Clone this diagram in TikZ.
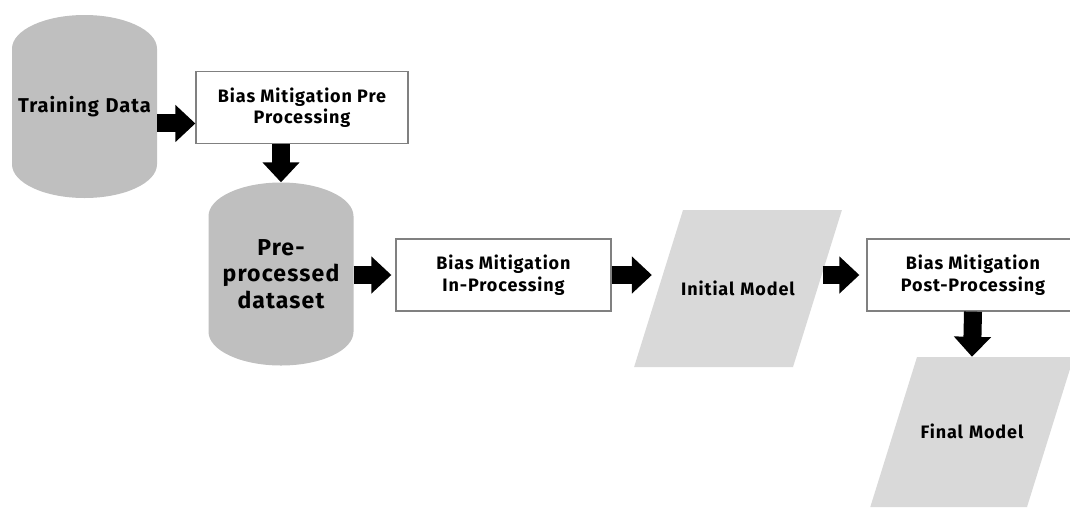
\documentclass[tikz,border=0pt]{standalone}
\usepackage{fontspec}
\setmainfont{Fira Sans}
\newfontfamily\labelfont{Fira Sans}[LetterSpace=5]
\usetikzlibrary{shapes.geometric,arrows.meta,positioning}
\usepackage{xcolor}
\definecolor{dbgray}{HTML}{BFBFBF}
\definecolor{iogray}{HTML}{D9D9D9}
\tikzset{
    database/.style={cylinder, shape border rotate=90, aspect=0.5, anchor=shape center, fill=dbgray, text width=135pt, minimum width=145pt, minimum height=183pt, inner sep=0pt},
    dbtext/.style={anchor=center, text width=135pt, align=center, inner sep=0pt, font=\labelfont\bfseries\fontsize{20}{26}\selectfont},
    block/.style={rectangle, draw=black!50, line width=1.3pt, fill=white, minimum width=212pt, minimum height=72pt, align=center, font=\labelfont\bfseries\fontsize{18}{21.5}\selectfont},
    io/.style={trapezium, trapezium left angle=72.7, trapezium right angle=107.3, fill=iogray, text width=124pt, align=center, text height=13pt, text depth=0pt, inner xsep=-7pt, inner ysep=72pt, font=\labelfont\bfseries\fontsize{18}{21.5}\selectfont},
    line/.style={draw, line width=18pt, -{Triangle[length=20pt, width=36pt]}}
}

\begin{document}
\begin{tikzpicture}[x=1pt, y=-1pt]
    \path[use as bounding box] (0,0) rectangle (1070,507);
    \clip (0,0) rectangle (1070,507);

    % data stores
    \node [database, label={[dbtext]shape center:Training Data}] (train) at (84.5,106.5) {};
    \node [database, label={[dbtext, font=\labelfont\bfseries\fontsize{23}{26.5}\selectfont]shape center:Pre-\\processed\\dataset}] (prep) at (281,274) {};

    % mitigation stages
    \node [block] (pre) at (302,107.5) {Bias Mitigation Pre\\Processing};
    \node [block, minimum width=215pt] (inproc) at (503.5,275) {Bias Mitigation\\In-Processing};
    \node [block] (post) at (973,275) {Bias Mitigation\\Post-Processing};

    % models
    \node [io] (initial) at (738,288.5) {Initial Model};
    \node [io, inner ysep=68.5pt] (final) at (972,432) {Final Model};

    \path [line] (train.east) -- (train.east -| pre.west);
    \path [line] (pre.south -| prep.north) -- (prep.north);
    \path [line, shorten >=4pt] (prep.east |- inproc.west) -- (inproc.west);
    \path [line, shorten >=6.5pt] (inproc.east) -- (inproc.east -| initial.west);
    \path [line, shorten <=5pt, shorten >=7pt] (initial.east |- post.west) -- (post.west);
    \path [line] (post.south) -- (final.north);
\end{tikzpicture}
\end{document}
